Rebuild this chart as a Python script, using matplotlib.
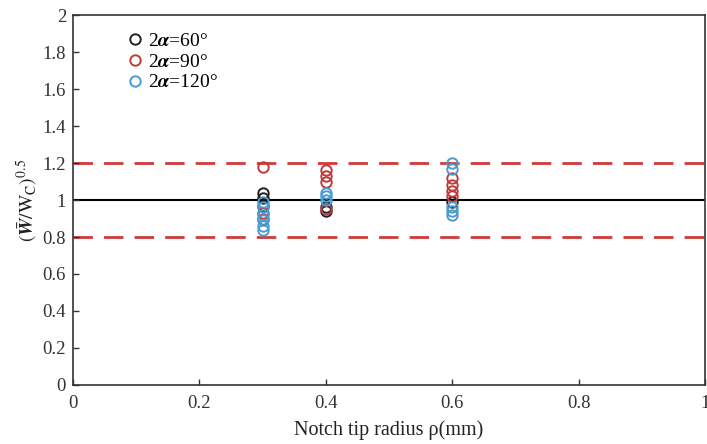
import matplotlib
matplotlib.use("Agg")
import matplotlib.pyplot as plt

# Data
x60 = [0.3, 0.3, 0.3, 0.4, 0.4, 0.6]
y60 = [1.04, 1.01, 0.97, 0.96, 0.94, 0.99]
x90 = [0.3, 0.3, 0.3, 0.4, 0.4, 0.4, 0.4, 0.6, 0.6, 0.6, 0.6]
y90 = [1.18, 0.93, 0.90, 1.16, 1.13, 1.10, 0.95, 1.12, 1.08, 1.05, 1.02]
x120 = [0.3, 0.3, 0.3, 0.3, 0.3, 0.3, 0.4, 0.4, 0.4, 0.6, 0.6, 0.6, 0.6, 0.6]
y120 = [0.99, 0.96, 0.92, 0.89, 0.86, 0.84, 1.04, 1.02, 1.00, 1.20, 1.17, 0.96, 0.94, 0.92]
ref_line = 1.0
bounds = [0.8, 1.2]
xticks = [0, 0.2, 0.4, 0.6, 0.8, 1]
yticks = [0, 0.2, 0.4, 0.6, 0.8, 1, 1.2, 1.4, 1.6, 1.8, 2]
xticklabels = ['0', '0.2', '0.4', '0.6', '0.8', '1']
yticklabels = ['0', '0.2', '0.4', '0.6', '0.8', '1', '1.2', '1.4', '1.6', '1.8', '2']
labels = [r'2$\boldsymbol{\alpha}$=60°', r'2$\boldsymbol{\alpha}$=90°', r'2$\boldsymbol{\alpha}$=120°']

plt.rcParams['font.family'] = ['Liberation Serif', 'DejaVu Serif']
plt.rcParams['mathtext.fontset'] = 'stix'

fig = plt.figure(figsize=(7.07, 4.44), dpi=100)
ax = fig.add_axes([0.1033, 0.133, 0.894, 0.833])

for b in bounds:
    ax.axhline(b, color='#d23a3a', lw=2, ls=(0, (7, 4)), zorder=1)
ax.axhline(ref_line, color='black', lw=1.5, zorder=1)

ms = 7.5
ax.plot(x60, y60, 'o', mfc='none', mec='#222222', mew=1.4, ms=ms, ls='none', label=labels[0], zorder=3)
ax.plot(x90, y90, 'o', mfc='none', mec='#c03a3a', mew=1.4, ms=ms, ls='none', label=labels[1], zorder=3)
ax.plot(x120, y120, 'o', mfc='none', mec='#4a9bd0', mew=1.4, ms=ms, ls='none', label=labels[2], zorder=3)

ax.set_xlim(0, 1)
ax.set_ylim(0, 2)
ax.set_xticks(xticks)
ax.set_xticklabels(xticklabels)
ax.set_yticks(yticks)
ax.set_yticklabels(yticklabels)
ax.tick_params(direction='in', labelsize=13.5, length=4, width=1, color='#333333', labelcolor='#333333')
ax.tick_params(axis='x', pad=7)
ax.tick_params(axis='y', pad=5)
for s in ax.spines.values():
    s.set_color('#333333')
    s.set_linewidth(1.2)

ax.set_xlabel('Notch tip radius ρ(mm)', fontsize=14.5, color='#222222', labelpad=6)
ax.set_ylabel(r'$(\bar{\boldsymbol{W}}/\mathrm{W}_{\mathrm{C}})^{0.5}$', fontsize=14, color='#222222', labelpad=2)

leg = ax.legend(loc='upper left', bbox_to_anchor=(0.062, 0.984), frameon=False, fontsize=14,
                handletextpad=0.15, borderaxespad=0.2, labelspacing=0.15, handlelength=1.1)

fig.savefig('out.png', dpi=100)
